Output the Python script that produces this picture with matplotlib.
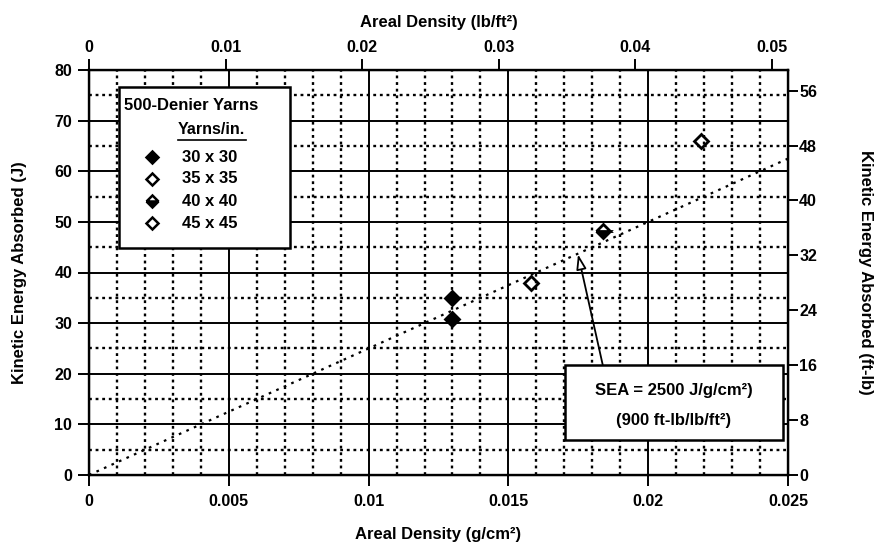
import matplotlib
matplotlib.use('agg')
import matplotlib.pyplot as plt
from matplotlib.patches import Rectangle
from matplotlib.ticker import MultipleLocator, FuncFormatter

plt.rcParams['font.family'] = ['Liberation Sans', 'DejaVu Sans']
plt.rcParams['font.weight'] = 'bold'

# data (areal density g/cm2, energy J)
yarn_labels = ["30 x 30", "35 x 35", "40 x 40", "45 x 45"]
yarn_density = [[0.0130, 0.0130], [0.0158], [0.0184], [0.0219]]
yarn_energy = [[35.0, 30.8], [38.0], [48.2], [66.0]]
yarn_fill = ['full', 'none', 'bottom', 'none']

sea = 2500.0             # J/g/cm2
sea_x = [0.0, 0.025]
LBFT2_PER_GCM2 = 1 / 0.4882
FTLB_PER_J = 0.7376

W, H = 880, 546
fig = plt.figure(figsize=(W / 100, H / 100), dpi=100)


def fx(x):
    return x / W


def fy(y):
    return 1 - y / H


ax = fig.add_axes([fx(89), fy(475), fx(788) - fx(89), fy(70) - fy(475)])
ax.set_xlim(0, 0.025)
ax.set_ylim(0, 80)

ax.xaxis.set_major_locator(MultipleLocator(0.005))
ax.xaxis.set_minor_locator(MultipleLocator(0.001))
ax.yaxis.set_major_locator(MultipleLocator(10))
ax.yaxis.set_minor_locator(MultipleLocator(5))
ax.grid(which='major', color='black', lw=1.4, ls='-')
ax.grid(which='minor', color='black', lw=1.7, ls=(0, (1.2, 1.6)))
ax.set_axisbelow(True)
ax.xaxis.set_major_formatter(FuncFormatter(lambda v, p: f"{v:g}"))
ax.tick_params(which='major', direction='out', length=8, width=1.4, labelsize=11.5)
ax.tick_params(axis='x', pad=6)
ax.tick_params(axis='y', pad=4)
ax.tick_params(which='minor', length=0)
for s in ax.spines.values():
    s.set_linewidth(1.7)

# SEA line
ax.plot(sea_x, [sea * v for v in sea_x], color='black', lw=1.6, ls=(0, (1.2, 2.5)), zorder=3)

# data points
for lab, xs, ys, fs in zip(yarn_labels, yarn_density, yarn_energy, yarn_fill):
    ax.plot(xs, ys, ls='none', marker='D', ms=7, mec='black', mew=2,
            mfc='black', mfcalt='white', fillstyle=fs, zorder=4)

# top axis lb/ft2
ax_top = ax.twiny()
ax_top.set_xlim(0, 0.025 * LBFT2_PER_GCM2)
ax_top.xaxis.set_major_locator(MultipleLocator(0.01))
ax_top.xaxis.set_major_formatter(FuncFormatter(lambda v, p: f"{v:g}"))
ax_top.tick_params(direction='out', length=8, width=1.4, labelsize=11.5, pad=3)
ax_top.set_xlabel("Areal Density (lb/ft²)", fontsize=12, fontweight='bold', labelpad=9)

# right axis ft-lb
ax_r = ax.twinx()
ax_r.set_ylim(0, 80 * FTLB_PER_J)
ax_r.yaxis.set_major_locator(MultipleLocator(8))
ax_r.tick_params(direction='out', length=7, width=1.4, labelsize=11.5, pad=1)
ax_r.set_ylabel("Kinetic Energy Absorbed (ft-lb)", fontsize=12, fontweight='bold',
                rotation=270, labelpad=40)

ax.set_xlabel("Areal Density (g/cm²)", fontsize=12, fontweight='bold', labelpad=13)
ax.set_ylabel("Kinetic Energy Absorbed (J)", fontsize=12, fontweight='bold', labelpad=20)

# legend box drawn by hand
fig.patches.append(Rectangle((fx(119), fy(248)), fx(290) - fx(119), fy(87) - fy(248),
                             transform=fig.transFigure, fc='white', ec='black', lw=1.8, zorder=5))
fig.text(fx(124), fy(106), "500-Denier Yarns", fontsize=12, va='center', ha='left', zorder=6)
fig.text(fx(178), fy(130), "Yarns/in.", fontsize=11.5, va='center', ha='left', zorder=6)
fig.lines.append(plt.Line2D([fx(178), fx(246)], [fy(140), fy(140)], transform=fig.transFigure,
                            color='black', lw=1.2, zorder=6))
for i, (lab, fs) in enumerate(zip(yarn_labels, yarn_fill)):
    yy = 157 + i * 22
    fig.lines.append(plt.Line2D([fx(152)], [fy(yy)], transform=fig.transFigure, ls='none',
                                marker='D', ms=6, mec='black', mew=1.8, mfc='black',
                                mfcalt='white', fillstyle=fs, zorder=6))
    fig.text(fx(182), fy(yy), lab, fontsize=12, va='center', ha='left', zorder=6)

# SEA annotation
fig.patches.append(Rectangle((fx(565), fy(440)), fx(783) - fx(565), fy(365) - fy(440),
                             transform=fig.transFigure, fc='white', ec='black', lw=1.8, zorder=5))
fig.text(fx(674), fy(390), "SEA = 2500 J/g/cm²)", fontsize=12, ha='center', va='center', zorder=6)
fig.text(fx(674), fy(421), "(900 ft-lb/lb/ft²)", fontsize=12, ha='center', va='center', zorder=6)
ax.annotate("", xy=(0.01749, 43.6), xytext=(0.01838, 21.6),
            arrowprops=dict(arrowstyle='-|>,head_length=0.9,head_width=0.3',
                            fc='white', ec='black', lw=1.3, shrinkA=0, shrinkB=0),
            zorder=6)

fig.savefig("out.png", dpi=100)
